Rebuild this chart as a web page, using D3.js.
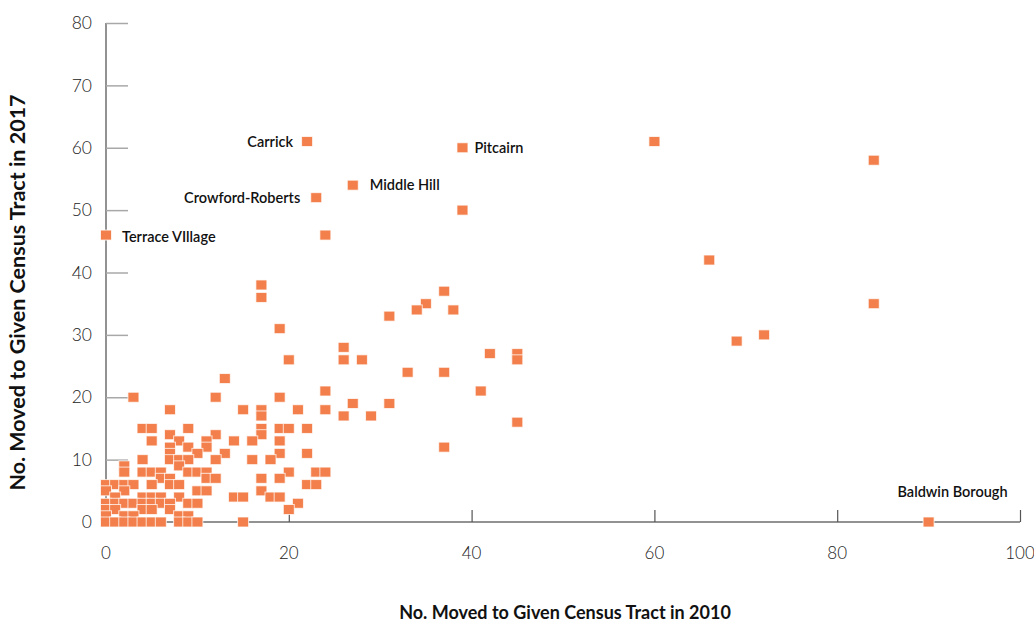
<!DOCTYPE html>
<html>
<head>
<meta charset="utf-8">
<script src="https://cdn.jsdelivr.net/npm/d3@7"></script>
<style>
  body { margin: 0; background: #fff; }
  svg text { font-family: Lato, "Open Sans", sans-serif; }
</style>
</head>
<body>
<div id="chart"></div>
<script>
// tract counts: moved in 2010 (x) vs moved in 2017 (y)
const moved2010 = [
  22, 39, 27, 23, 0, 90,
  60, 84, 39, 24, 66, 17, 17, 84, 37, 35, 34, 38, 31, 19, 72, 69, 26, 42, 45, 20, 26, 28, 45,
  33, 37, 13, 24, 41, 3, 12, 19, 27, 31, 7, 15, 17, 21, 24, 17, 26, 29, 45, 37,
  4, 5, 9, 17, 19, 20, 22,
  7, 12, 17,
  5, 8, 11, 14, 16, 19,
  7, 9, 11,
  7, 10, 13, 19, 22,
  4, 7, 8, 9, 12, 16, 18,
  2, 8,
  2, 4, 5, 6, 9, 10, 11, 20, 23, 24,
  6, 7, 11, 12, 17, 19,
  0, 1, 2, 3, 5, 7, 8, 22, 23,
  0, 2, 10, 11, 17,
  1, 4, 5, 6, 8, 14, 15, 18, 19,
  0, 1, 2, 3, 4, 5, 6, 7, 9, 10, 21,
  0, 1, 4, 5, 7, 20,
  0, 2, 3, 8, 9,
  0, 1, 2, 3, 4, 5, 6, 8, 9, 10, 15
];
const moved2017 = [
  61, 60, 54, 52, 46, 0,
  61, 58, 50, 46, 42, 38, 36, 35, 37, 35, 34, 34, 33, 31, 30, 29, 28, 27, 27, 26, 26, 26, 26,
  24, 24, 23, 21, 21, 20, 20, 20, 19, 19, 18, 18, 18, 18, 18, 17, 17, 17, 16, 12,
  15, 15, 15, 15, 15, 15, 15,
  14, 14, 14,
  13, 13, 13, 13, 13, 13,
  12, 12, 12,
  11, 11, 11, 11, 11,
  10, 10, 10, 10, 10, 10, 10,
  9, 9,
  8, 8, 8, 8, 8, 8, 8, 8, 8, 8,
  7, 7, 7, 7, 7, 7,
  6, 6, 6, 6, 6, 6, 6, 6, 6,
  5, 5, 5, 5, 5,
  4, 4, 4, 4, 4, 4, 4, 4, 4,
  3, 3, 3, 3, 3, 3, 3, 3, 3, 3, 3,
  2, 2, 2, 2, 2, 2,
  1, 1, 1, 1, 1,
  0, 0, 0, 0, 0, 0, 0, 0, 0, 0, 0
];
const labelNames = ["Carrick", "Pitcairn", "Middle Hill", "Crowford-Roberts", "Terrace VIllage", "Baldwin Borough"];
const xTicks = [0, 20, 40, 60, 80, 100];
const yTicks = [0, 10, 20, 30, 40, 50, 60, 70, 80];

function init() {
  const width = 1034, height = 622;
  const margin = { left: 106, right: 14, top: 23, bottom: 100 };

  const svg = d3.select("#chart").append("svg")
    .attr("width", width)
    .attr("height", height);

  const x = d3.scaleLinear().domain([0, 100]).range([margin.left, width - margin.right]);
  const y = d3.scaleLinear().domain([0, 80]).range([height - margin.bottom, margin.top]);

  // y axis: gray tick stubs pointing into the plot
  const yAxis = svg.append("g")
    .attr("transform", `translate(${margin.left},0)`)
    .call(d3.axisRight(y).tickValues(yTicks).tickSize(22).tickFormat(""));
  yAxis.select(".domain").attr("stroke", "#6e6e6e").attr("stroke-width", 1.5).attr("d", `M0,${y(80)}V${y(0)}`);
  yAxis.selectAll(".tick line").attr("stroke", "#a8a8a8").attr("stroke-width", 1.5);

  svg.append("g").selectAll("text")
    .data(yTicks)
    .join("text")
    .attr("x", margin.left - 14)
    .attr("y", d => y(d))
    .attr("dy", "0.35em")
    .attr("text-anchor", "end")
    .attr("font-size", 17.5)
    .attr("font-weight", 300)
    .attr("fill", "#222")
    .text(d => d);

  // x axis: ticks going up from the baseline
  const xAxis = svg.append("g")
    .attr("transform", `translate(0,${y(0)})`)
    .call(d3.axisTop(x).tickValues(xTicks).tickSize(12).tickFormat(""));
  xAxis.select(".domain").attr("stroke", "#6e6e6e").attr("stroke-width", 1.5).attr("d", `M${x(0)},0H${x(100)}`);
  xAxis.selectAll(".tick line").attr("stroke", "#555").attr("stroke-width", 1.2);

  svg.append("g").selectAll("text")
    .data(xTicks)
    .join("text")
    .attr("x", d => x(d))
    .attr("y", y(0) + 37)
    .attr("text-anchor", "middle")
    .attr("font-size", 17)
    .attr("font-weight", 300)
    .attr("fill", "#222")
    .text(d => d);

  // axis titles
  svg.append("text")
    .attr("transform", `translate(25,${(y(80) + y(0)) / 2 + 20}) rotate(-90)`)
    .attr("text-anchor", "middle")
    .attr("font-size", 21.5)
    .attr("font-weight", 700)
    .attr("fill", "#111")
    .text("No. Moved to Given Census Tract in 2017");

  svg.append("text")
    .attr("x", 565)
    .attr("y", 619)
    .attr("text-anchor", "middle")
    .attr("font-size", 18)
    .attr("font-weight", 700)
    .attr("fill", "#111")
    .text("No. Moved to Given Census Tract in 2010");

  // points
  const pts = moved2010.map((v, i) => ({ x: v, y: moved2017[i] }));
  svg.append("g").selectAll("rect")
    .data(pts)
    .join("rect")
    .attr("x", d => x(d.x) - 5.5)
    .attr("y", d => y(d.y) - 5)
    .attr("width", 11)
    .attr("height", 10)
    .attr("fill", "#f3804c")
    .attr("stroke", "#fff")
    .attr("stroke-opacity", 0.75)
    .attr("stroke-width", 1);

  // labels for the named tracts (first six points)
  const labelOffsets = [
    { dx: -14, dy: 5, anchor: "end" },
    { dx: 12, dy: 5, anchor: "start" },
    { dx: 17, dy: 5, anchor: "start" },
    { dx: -16, dy: 5, anchor: "end" },
    { dx: 16, dy: 7, anchor: "start" },
    { dx: 79, dy: -25, anchor: "end" }
  ];
  svg.append("g").selectAll("text")
    .data(labelNames)
    .join("text")
    .attr("x", (d, i) => x(moved2010[i]) + labelOffsets[i].dx)
    .attr("y", (d, i) => y(moved2017[i]) + labelOffsets[i].dy)
    .attr("text-anchor", (d, i) => labelOffsets[i].anchor)
    .attr("font-size", 14.5)
    .attr("font-weight", 600)
    .attr("fill", "#111")
    .text(d => d);
}

window.onload = init;
</script>
</body>
</html>
